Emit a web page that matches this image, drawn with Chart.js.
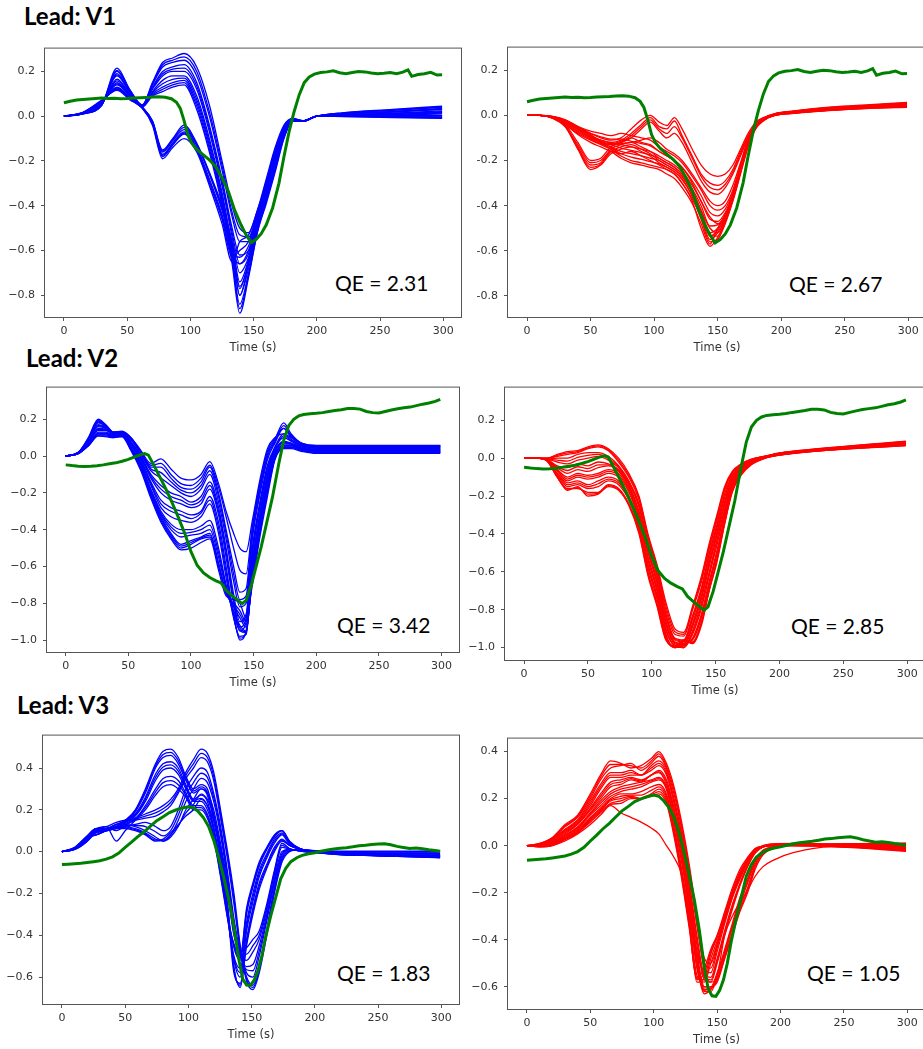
<!DOCTYPE html>
<html><head><meta charset="utf-8">
<script src="https://cdn.jsdelivr.net/npm/chart.js@4.4.1/dist/chart.umd.min.js"></script>
<style>
html,body{margin:0;padding:0;background:#fff;overflow:hidden;width:923px;height:1049px;}
body{position:relative;}
canvas{position:absolute;}
.lead{position:absolute;font-family:Lato,'Open Sans',sans-serif;font-weight:700;font-size:24px;line-height:24px;color:#000;white-space:nowrap;}
.qe{position:absolute;font-family:Lato,'Open Sans',sans-serif;font-size:21px;line-height:21px;color:#000;white-space:nowrap;}
</style></head><body>
<div class="lead" style="left:24px;top:4px">Lead: V1</div>
<div class="lead" style="left:26px;top:346px">Lead: V2</div>
<div class="lead" style="left:17px;top:693px">Lead: V3</div>
<div class="qe" style="left:335px;top:272px">QE = 2.31</div>
<div class="qe" style="left:789px;top:273px">QE = 2.67</div>
<div class="qe" style="left:337px;top:614px">QE = 3.42</div>
<div class="qe" style="left:791px;top:615px">QE = 2.85</div>
<div class="qe" style="left:337px;top:962px">QE = 1.83</div>
<div class="qe" style="left:807px;top:962px">QE = 1.05</div>
<script>
// ---------- tick labels ----------
const xTicks = [0, 50, 100, 150, 200, 250, 300];
const yTicksV1 = [0.2, 0.0, -0.2, -0.4, -0.6, -0.8];
const yTicksV2 = [0.2, 0.0, -0.2, -0.4, -0.6, -0.8, -1.0];
const yTicksV3 = [0.4, 0.2, 0.0, -0.2, -0.4, -0.6];

// ---------- green reference traces (one per lead) ----------
const greenTimeV1 = [0,5,10,15,20,25,30,35,40,45,50,55,60,65,70,75,80,85,89,92,95,98,101,105,110,115,120,125,130,135,140,144,148,152,156,160,165,170,174,178,182,186,190,194,198,203,208,213,218,223,228,233,238,243,248,253,258,263,268,272,275,280,285,290,295,299];
const greenV1 = [0.06,0.067,0.072,0.075,0.077,0.079,0.081,0.079,0.08,0.078,0.079,0.081,0.082,0.083,0.086,0.087,0.085,0.078,0.062,0.035,-0.02,-0.085,-0.12,-0.148,-0.172,-0.195,-0.225,-0.275,-0.335,-0.42,-0.485,-0.53,-0.565,-0.55,-0.525,-0.485,-0.41,-0.3,-0.18,-0.07,0.02,0.095,0.15,0.175,0.188,0.195,0.198,0.203,0.194,0.19,0.195,0.2,0.198,0.193,0.19,0.192,0.195,0.19,0.197,0.207,0.178,0.186,0.19,0.196,0.184,0.185];

const greenTimeV2 = [0,5,10,15,20,25,30,35,40,45,50,55,60,63,66,70,75,80,85,90,95,100,105,110,115,120,124,128,133,137,141,144,148,152,156,160,165,170,174,178,182,186,190,195,200,205,210,215,220,225,230,235,240,245,250,255,260,265,270,275,280,285,290,295,299];
const greenV2 = [-0.048,-0.052,-0.055,-0.057,-0.056,-0.053,-0.048,-0.042,-0.037,-0.028,-0.018,-0.005,0.008,0.013,0.005,-0.045,-0.112,-0.18,-0.255,-0.335,-0.42,-0.52,-0.595,-0.635,-0.66,-0.678,-0.69,-0.73,-0.76,-0.782,-0.802,-0.785,-0.705,-0.6,-0.495,-0.375,-0.225,-0.045,0.085,0.165,0.2,0.218,0.226,0.23,0.232,0.236,0.242,0.247,0.252,0.258,0.258,0.255,0.242,0.236,0.234,0.242,0.25,0.257,0.262,0.266,0.274,0.282,0.288,0.297,0.308];

const greenTimeV3 = [0,5,10,15,20,25,30,35,40,45,50,55,60,65,70,75,80,85,90,95,100,104,108,112,116,120,124,128,132,136,140,143,146,149,152,155,158,161,165,169,173,177,181,186,190,195,200,205,210,215,220,225,230,235,240,245,250,255,260,265,270,275,280,285,290,295,299];
const greenV3 = [-0.062,-0.06,-0.058,-0.056,-0.052,-0.048,-0.044,-0.036,-0.025,-0.007,0.02,0.045,0.072,0.095,0.122,0.148,0.167,0.187,0.199,0.209,0.215,0.21,0.19,0.162,0.12,0.055,-0.03,-0.125,-0.23,-0.36,-0.52,-0.61,-0.638,-0.64,-0.615,-0.57,-0.5,-0.41,-0.31,-0.22,-0.13,-0.08,-0.048,-0.028,-0.018,-0.01,-0.005,0.002,0.008,0.013,0.016,0.019,0.023,0.028,0.03,0.034,0.036,0.038,0.033,0.025,0.02,0.015,0.017,0.014,0.009,0.005,0.002];

// ---------- Lead V1, blue ----------
const timeV1Blue = [0,15,30,42,52,62,70,78,86,95,105,115,125,133,139,146,153,160,167,174,181,189,200,220,260,299];
const blueV1 = [
 [0,0.010,0.050,0.215,0.120,0.050,0.150,0.240,0.260,0.280,0.220,0.050,-0.200,-0.400,-0.500,-0.520,-0.420,-0.280,-0.140,-0.040,-0.010,-0.020,0.000,0.015,0.030,0.045],
 [0,0.011,0.051,0.205,0.118,0.049,0.145,0.230,0.250,0.265,0.200,0.020,-0.220,-0.430,-0.530,-0.540,-0.430,-0.290,-0.150,-0.045,-0.011,-0.020,0.000,0.014,0.028,0.042],
 [0,0.010,0.050,0.200,0.115,0.050,0.140,0.220,0.240,0.250,0.180,0.000,-0.240,-0.450,-0.560,-0.560,-0.440,-0.300,-0.160,-0.050,-0.012,-0.020,0.000,0.013,0.026,0.040],
 [0,0.011,0.052,0.190,0.110,0.048,0.130,0.200,0.220,0.230,0.150,-0.040,-0.280,-0.500,-0.620,-0.600,-0.460,-0.310,-0.170,-0.060,-0.014,-0.021,0.000,0.011,0.022,0.035],
 [0,0.011,0.053,0.185,0.108,0.047,0.125,0.190,0.210,0.215,0.135,-0.055,-0.295,-0.520,-0.660,-0.615,-0.470,-0.320,-0.180,-0.065,-0.015,-0.021,0.000,0.010,0.020,0.032],
 [0,0.012,0.055,0.180,0.105,0.046,0.120,0.180,0.200,0.200,0.120,-0.070,-0.310,-0.540,-0.700,-0.630,-0.480,-0.330,-0.190,-0.070,-0.016,-0.022,0.000,0.009,0.018,0.030],
 [0,0.012,0.057,0.165,0.100,0.045,0.110,0.160,0.180,0.180,0.090,-0.100,-0.340,-0.580,-0.760,-0.660,-0.500,-0.350,-0.210,-0.080,-0.018,-0.022,0.000,0.007,0.014,0.024],
 [0,0.013,0.058,0.158,0.098,0.044,0.105,0.145,0.165,0.170,0.075,-0.115,-0.355,-0.600,-0.800,-0.680,-0.505,-0.360,-0.220,-0.085,-0.019,-0.022,0.000,0.006,0.012,0.020],
 [0,0.013,0.060,0.150,0.095,0.044,0.100,0.130,0.150,0.160,0.060,-0.130,-0.370,-0.620,-0.840,-0.700,-0.510,-0.370,-0.230,-0.090,-0.020,-0.023,0.000,0.005,0.009,0.017],
 [0,0.014,0.061,0.145,0.092,0.043,0.095,0.120,0.140,0.150,0.045,-0.145,-0.385,-0.640,-0.860,-0.710,-0.515,-0.380,-0.240,-0.095,-0.021,-0.023,0.000,0.004,0.007,0.014],
 [0,0.014,0.062,0.140,0.090,0.042,0.090,0.110,0.130,0.140,0.030,-0.160,-0.400,-0.660,-0.880,-0.720,-0.520,-0.390,-0.250,-0.100,-0.022,-0.023,0.000,0.003,0.005,0.010],
 [0,0.015,0.065,0.130,0.085,0.040,-0.020,-0.150,-0.100,-0.040,-0.120,-0.250,-0.400,-0.560,-0.740,-0.640,-0.480,-0.330,-0.190,-0.070,-0.020,-0.022,0.000,0.002,0.002,0.004],
 [0,0.015,0.066,0.128,0.084,0.040,-0.022,-0.155,-0.105,-0.050,-0.125,-0.255,-0.410,-0.575,-0.770,-0.650,-0.485,-0.335,-0.195,-0.075,-0.020,-0.022,0.000,0.002,0.001,0.002],
 [0,0.015,0.066,0.125,0.082,0.040,-0.025,-0.160,-0.110,-0.060,-0.130,-0.260,-0.420,-0.590,-0.800,-0.660,-0.490,-0.340,-0.200,-0.080,-0.020,-0.022,0.000,0.001,0.000,0.000],
 [0,0.016,0.068,0.120,0.080,0.038,-0.030,-0.170,-0.120,-0.070,-0.140,-0.280,-0.440,-0.610,-0.660,-0.600,-0.460,-0.320,-0.180,-0.070,-0.020,-0.022,0.000,0.000,-0.002,-0.004],
 [0,0.016,0.069,0.120,0.078,0.037,-0.032,-0.175,-0.125,-0.075,-0.145,-0.290,-0.450,-0.620,-0.630,-0.580,-0.450,-0.315,-0.175,-0.065,-0.020,-0.022,0.000,0.000,-0.003,-0.006],
 [0,0.016,0.070,0.120,0.076,0.036,-0.035,-0.180,-0.130,-0.080,-0.150,-0.300,-0.460,-0.630,-0.600,-0.560,-0.440,-0.310,-0.170,-0.060,-0.020,-0.021,0.000,-0.001,-0.004,-0.007],
 [0,0.017,0.072,0.115,0.074,0.035,-0.040,-0.190,-0.140,-0.100,-0.160,-0.310,-0.480,-0.650,-0.560,-0.530,-0.420,-0.300,-0.160,-0.060,-0.020,-0.021,0.000,-0.002,-0.006,-0.010]
];

// ---------- Lead V1, red ----------
const timeV1Red = [0,10,20,30,40,50,58,66,74,82,90,97,104,110,116,122,130,137,144,150,156,162,168,174,180,186,195,210,240,270,299];
const redV1 = [
 [0,0,-0.005,-0.02,-0.05,-0.08,-0.10,-0.11,-0.10,-0.06,-0.02,0.0,-0.03,-0.045,-0.01,-0.06,-0.15,-0.22,-0.26,-0.27,-0.26,-0.22,-0.15,-0.08,-0.03,-0.01,0.008,0.02,0.037,0.047,0.057],
 [0,0,-0.005,-0.02,-0.05,-0.09,-0.11,-0.12,-0.11,-0.08,-0.04,-0.01,-0.05,-0.06,-0.025,-0.09,-0.18,-0.26,-0.30,-0.31,-0.29,-0.24,-0.16,-0.09,-0.035,-0.012,0.007,0.019,0.035,0.045,0.055],
 [0,0,-0.006,-0.022,-0.052,-0.085,-0.115,-0.125,-0.115,-0.09,-0.05,-0.02,-0.06,-0.08,-0.05,-0.1,-0.19,-0.27,-0.32,-0.33,-0.305,-0.25,-0.17,-0.095,-0.038,-0.013,0.006,0.018,0.034,0.045,0.054],
 [0,0,-0.006,-0.025,-0.055,-0.09,-0.12,-0.13,-0.12,-0.10,-0.06,-0.03,-0.07,-0.10,-0.08,-0.12,-0.21,-0.29,-0.34,-0.35,-0.32,-0.26,-0.18,-0.10,-0.04,-0.014,0.006,0.018,0.033,0.044,0.053],
 [0,0,-0.007,-0.03,-0.06,-0.1,-0.125,-0.13,-0.125,-0.12,-0.11,-0.1,-0.12,-0.15,-0.17,-0.2,-0.26,-0.32,-0.38,-0.4,-0.38,-0.31,-0.21,-0.105,-0.043,-0.016,0.004,0.016,0.03,0.041,0.05],
 [0,0,-0.01,-0.04,-0.12,-0.20,-0.19,-0.14,-0.12,-0.10,-0.12,-0.13,-0.16,-0.18,-0.20,-0.23,-0.30,-0.38,-0.45,-0.48,-0.44,-0.35,-0.24,-0.12,-0.05,-0.02,0.005,0.016,0.031,0.042,0.051],
 [0,0,-0.01,-0.045,-0.14,-0.22,-0.21,-0.15,-0.13,-0.12,-0.14,-0.16,-0.19,-0.21,-0.23,-0.26,-0.33,-0.42,-0.50,-0.52,-0.46,-0.37,-0.25,-0.13,-0.055,-0.022,0.004,0.015,0.03,0.041,0.049],
 [0,0,-0.011,-0.047,-0.145,-0.23,-0.215,-0.16,-0.14,-0.13,-0.15,-0.17,-0.2,-0.22,-0.24,-0.27,-0.345,-0.44,-0.53,-0.535,-0.47,-0.375,-0.255,-0.135,-0.057,-0.023,0.003,0.014,0.029,0.04,0.048],
 [0,0,-0.012,-0.05,-0.15,-0.24,-0.22,-0.17,-0.15,-0.14,-0.16,-0.18,-0.21,-0.23,-0.25,-0.28,-0.36,-0.46,-0.56,-0.55,-0.48,-0.38,-0.26,-0.14,-0.06,-0.025,0.003,0.014,0.028,0.039,0.047],
 [0,0,-0.012,-0.05,-0.13,-0.21,-0.20,-0.16,-0.17,-0.16,-0.18,-0.20,-0.22,-0.24,-0.26,-0.30,-0.38,-0.50,-0.58,-0.54,-0.47,-0.37,-0.25,-0.13,-0.055,-0.023,0.002,0.013,0.027,0.038,0.045],
 [0,0,-0.008,-0.025,-0.05,-0.07,-0.08,-0.09,-0.08,-0.09,-0.10,-0.11,-0.14,-0.16,-0.18,-0.21,-0.27,-0.33,-0.40,-0.42,-0.40,-0.33,-0.22,-0.11,-0.045,-0.017,0.002,0.012,0.026,0.036,0.043],
 [0,0,-0.008,-0.028,-0.055,-0.08,-0.095,-0.105,-0.105,-0.115,-0.125,-0.135,-0.16,-0.18,-0.2,-0.23,-0.29,-0.355,-0.43,-0.445,-0.415,-0.34,-0.225,-0.11,-0.046,-0.017,0.002,0.012,0.026,0.035,0.042],
 [0,0,-0.008,-0.03,-0.06,-0.09,-0.11,-0.12,-0.13,-0.14,-0.15,-0.16,-0.18,-0.20,-0.22,-0.25,-0.31,-0.38,-0.46,-0.47,-0.43,-0.35,-0.23,-0.11,-0.048,-0.018,0.001,0.011,0.025,0.034,0.041],
 [0,0,-0.009,-0.032,-0.065,-0.095,-0.115,-0.13,-0.145,-0.155,-0.165,-0.175,-0.19,-0.21,-0.23,-0.26,-0.325,-0.4,-0.49,-0.485,-0.44,-0.355,-0.235,-0.115,-0.049,-0.019,0.001,0.011,0.024,0.034,0.04],
 [0,0,-0.009,-0.035,-0.07,-0.10,-0.12,-0.14,-0.16,-0.17,-0.18,-0.19,-0.20,-0.22,-0.24,-0.27,-0.34,-0.42,-0.52,-0.50,-0.45,-0.36,-0.24,-0.12,-0.05,-0.02,0.0,0.01,0.024,0.033,0.039],
 [0,0,-0.01,-0.038,-0.075,-0.105,-0.125,-0.145,-0.17,-0.185,-0.195,-0.205,-0.215,-0.23,-0.25,-0.285,-0.355,-0.435,-0.535,-0.51,-0.455,-0.365,-0.245,-0.122,-0.051,-0.02,0.0,0.01,0.023,0.033,0.038],
 [0,0,-0.01,-0.04,-0.08,-0.11,-0.13,-0.15,-0.18,-0.20,-0.21,-0.22,-0.23,-0.24,-0.26,-0.30,-0.37,-0.45,-0.55,-0.52,-0.46,-0.37,-0.25,-0.125,-0.052,-0.021,0.0,0.01,0.023,0.032,0.037],
 [0,0,-0.01,-0.04,-0.085,-0.12,-0.14,-0.16,-0.19,-0.21,-0.22,-0.23,-0.24,-0.26,-0.28,-0.32,-0.39,-0.48,-0.57,-0.50,-0.44,-0.36,-0.24,-0.12,-0.05,-0.02,0.0,0.009,0.022,0.031,0.035]
];

// ---------- Lead V2, blue ----------
const timeV2Blue = [0,10,18,26,32,38,45,52,60,68,76,84,92,100,108,115,122,128,134,139,144,149,155,161,167,174,180,188,200,230,299];
const blueV2 = [
 [0,0.02,0.1,0.2,0.17,0.13,0.13,0.1,0.03,-0.04,-0.015,-0.07,-0.12,-0.13,-0.1,-0.03,-0.15,-0.3,-0.42,-0.5,-0.52,-0.35,-0.13,0.04,0.1,0.12,0.1,0.07,0.058,0.058,0.058],
 [0,0.019,0.095,0.195,0.168,0.13,0.132,0.1,0.025,-0.05,-0.04,-0.1,-0.15,-0.16,-0.12,-0.05,-0.17,-0.33,-0.5,-0.62,-0.64,-0.38,-0.15,0.025,0.095,0.15,0.11,0.07,0.056,0.056,0.056],
 [0,0.02,0.09,0.19,0.165,0.13,0.135,0.1,0.02,-0.06,-0.06,-0.12,-0.17,-0.18,-0.14,-0.06,-0.2,-0.4,-0.6,-0.74,-0.72,-0.4,-0.17,0.01,0.09,0.18,0.12,0.07,0.054,0.054,0.054],
 [0,0.019,0.09,0.185,0.162,0.128,0.132,0.095,0.015,-0.07,-0.09,-0.14,-0.185,-0.2,-0.16,-0.08,-0.22,-0.42,-0.64,-0.78,-0.76,-0.43,-0.19,-0.005,0.08,0.165,0.11,0.068,0.052,0.052,0.052],
 [0,0.018,0.09,0.18,0.16,0.125,0.13,0.09,0.01,-0.08,-0.12,-0.16,-0.2,-0.22,-0.18,-0.1,-0.25,-0.45,-0.68,-0.82,-0.8,-0.45,-0.21,-0.02,0.07,0.15,0.1,0.065,0.05,0.05,0.05],
 [0,0.018,0.085,0.17,0.155,0.125,0.13,0.08,0.0,-0.1,-0.16,-0.2,-0.22,-0.25,-0.22,-0.14,-0.28,-0.5,-0.75,-0.9,-0.86,-0.5,-0.25,-0.05,0.05,0.12,0.09,0.06,0.046,0.046,0.046],
 [0,0.017,0.083,0.165,0.152,0.122,0.128,0.075,-0.005,-0.11,-0.18,-0.22,-0.24,-0.265,-0.24,-0.16,-0.3,-0.52,-0.78,-0.93,-0.88,-0.52,-0.265,-0.065,0.045,0.11,0.085,0.058,0.044,0.044,0.044],
 [0,0.016,0.08,0.16,0.15,0.12,0.125,0.07,-0.01,-0.12,-0.2,-0.24,-0.26,-0.28,-0.26,-0.18,-0.32,-0.55,-0.8,-0.95,-0.9,-0.54,-0.28,-0.08,0.04,0.1,0.08,0.055,0.042,0.042,0.042],
 [0,0.016,0.075,0.15,0.145,0.12,0.125,0.07,-0.02,-0.14,-0.24,-0.28,-0.3,-0.32,-0.3,-0.22,-0.36,-0.6,-0.86,-1.0,-0.95,-0.58,-0.31,-0.1,0.03,0.08,0.07,0.05,0.038,0.038,0.038],
 [0,0.015,0.072,0.145,0.142,0.118,0.122,0.065,-0.025,-0.15,-0.26,-0.3,-0.32,-0.34,-0.31,-0.24,-0.39,-0.63,-0.87,-0.99,-0.96,-0.59,-0.325,-0.11,0.025,0.075,0.068,0.048,0.036,0.036,0.036],
 [0,0.015,0.07,0.14,0.14,0.115,0.12,0.06,-0.03,-0.16,-0.28,-0.33,-0.35,-0.36,-0.33,-0.26,-0.42,-0.66,-0.88,-0.98,-0.97,-0.6,-0.34,-0.12,0.02,0.07,0.065,0.045,0.034,0.034,0.034],
 [0,0.015,0.065,0.13,0.13,0.11,0.12,0.05,-0.04,-0.18,-0.3,-0.37,-0.4,-0.4,-0.38,-0.35,-0.5,-0.7,-0.86,-0.95,-0.96,-0.62,-0.36,-0.14,0.01,0.06,0.06,0.042,0.03,0.03,0.03],
 [0,0.014,0.062,0.125,0.125,0.11,0.118,0.048,-0.045,-0.19,-0.31,-0.385,-0.42,-0.415,-0.4,-0.375,-0.525,-0.71,-0.85,-0.935,-0.955,-0.63,-0.37,-0.15,0.005,0.058,0.058,0.04,0.028,0.028,0.028],
 [0,0.014,0.06,0.12,0.12,0.11,0.115,0.045,-0.05,-0.2,-0.32,-0.4,-0.44,-0.43,-0.42,-0.4,-0.55,-0.72,-0.84,-0.92,-0.95,-0.64,-0.38,-0.16,0.0,0.055,0.055,0.038,0.026,0.026,0.026],
 [0,0.014,0.06,0.12,0.12,0.105,0.11,0.04,-0.06,-0.21,-0.33,-0.42,-0.48,-0.46,-0.44,-0.42,-0.58,-0.74,-0.82,-0.88,-0.93,-0.66,-0.4,-0.18,-0.01,0.05,0.05,0.034,0.022,0.022,0.022],
 [0,0.013,0.058,0.115,0.115,0.102,0.11,0.038,-0.065,-0.215,-0.34,-0.43,-0.49,-0.47,-0.445,-0.43,-0.59,-0.745,-0.81,-0.86,-0.915,-0.67,-0.41,-0.19,-0.012,0.048,0.048,0.032,0.02,0.02,0.02],
 [0,0.013,0.055,0.11,0.11,0.1,0.11,0.035,-0.07,-0.22,-0.35,-0.44,-0.5,-0.48,-0.45,-0.44,-0.6,-0.75,-0.8,-0.84,-0.9,-0.68,-0.42,-0.2,-0.015,0.045,0.045,0.03,0.018,0.018,0.018],
 [0,0.013,0.055,0.11,0.105,0.1,0.105,0.03,-0.08,-0.23,-0.36,-0.45,-0.51,-0.5,-0.47,-0.45,-0.62,-0.76,-0.78,-0.8,-0.88,-0.7,-0.44,-0.22,-0.02,0.04,0.04,0.026,0.014,0.014,0.014]
];

// ---------- Lead V2, red ----------
const timeV2Red = [0,10,18,26,34,42,50,58,66,74,82,90,97,104,111,118,125,132,139,145,151,157,163,170,178,188,200,230,299];
const redV2 = [
 [0,0,0.0,0.02,0.035,0.04,0.06,0.07,0.05,0.0,-0.08,-0.2,-0.4,-0.56,-0.76,-0.9,-0.92,-0.78,-0.62,-0.45,-0.3,-0.15,-0.07,-0.03,-0.005,0.01,0.028,0.05,0.09],
 [0,0,0.0,0.015,0.028,0.035,0.055,0.065,0.045,-0.01,-0.09,-0.21,-0.41,-0.57,-0.78,-0.915,-0.93,-0.79,-0.635,-0.465,-0.315,-0.16,-0.075,-0.032,-0.006,0.01,0.027,0.049,0.088],
 [0,0,0.0,0.01,0.02,0.03,0.05,0.06,0.04,-0.02,-0.1,-0.22,-0.42,-0.58,-0.8,-0.93,-0.94,-0.8,-0.65,-0.48,-0.33,-0.17,-0.08,-0.035,-0.008,0.009,0.026,0.048,0.087],
 [0,0,-0.005,0.0,0.0,0.02,0.03,0.03,0.01,-0.04,-0.12,-0.24,-0.44,-0.6,-0.82,-0.95,-0.96,-0.83,-0.68,-0.5,-0.35,-0.19,-0.09,-0.04,-0.01,0.008,0.025,0.047,0.085],
 [0,0,-0.005,-0.01,-0.015,0.005,0.015,0.02,0.0,-0.045,-0.125,-0.25,-0.45,-0.61,-0.83,-0.955,-0.965,-0.84,-0.69,-0.515,-0.36,-0.2,-0.095,-0.042,-0.011,0.007,0.024,0.046,0.084],
 [0,0,-0.005,-0.02,-0.03,-0.01,0.0,0.01,-0.01,-0.05,-0.13,-0.26,-0.46,-0.62,-0.84,-0.96,-0.97,-0.85,-0.7,-0.53,-0.37,-0.21,-0.1,-0.045,-0.012,0.007,0.024,0.046,0.083],
 [0,0,-0.008,-0.04,-0.05,-0.03,-0.04,-0.02,-0.03,-0.06,-0.14,-0.28,-0.48,-0.64,-0.86,-0.97,-0.98,-0.87,-0.72,-0.55,-0.39,-0.23,-0.11,-0.05,-0.015,0.006,0.023,0.045,0.08],
 [0,0,-0.008,-0.045,-0.065,-0.045,-0.055,-0.035,-0.035,-0.065,-0.145,-0.29,-0.49,-0.65,-0.87,-0.975,-0.985,-0.88,-0.73,-0.56,-0.4,-0.24,-0.115,-0.052,-0.016,0.005,0.022,0.044,0.079],
 [0,0,-0.008,-0.05,-0.08,-0.06,-0.07,-0.05,-0.04,-0.07,-0.15,-0.3,-0.5,-0.66,-0.88,-0.98,-0.99,-0.89,-0.74,-0.57,-0.41,-0.25,-0.12,-0.055,-0.018,0.005,0.022,0.044,0.078],
 [0,0,-0.01,-0.06,-0.1,-0.08,-0.09,-0.08,-0.06,-0.08,-0.16,-0.31,-0.52,-0.68,-0.9,-0.99,-1.0,-0.91,-0.76,-0.6,-0.43,-0.27,-0.13,-0.06,-0.02,0.004,0.021,0.043,0.076],
 [0,0,-0.01,-0.065,-0.11,-0.09,-0.1,-0.09,-0.07,-0.09,-0.17,-0.32,-0.53,-0.69,-0.905,-0.99,-1.0,-0.92,-0.775,-0.61,-0.445,-0.28,-0.135,-0.062,-0.021,0.003,0.02,0.042,0.075],
 [0,0,-0.01,-0.07,-0.12,-0.1,-0.11,-0.1,-0.08,-0.1,-0.18,-0.33,-0.54,-0.7,-0.91,-0.99,-1.0,-0.93,-0.79,-0.62,-0.46,-0.29,-0.14,-0.065,-0.022,0.003,0.02,0.042,0.074],
 [0,0,-0.012,-0.08,-0.13,-0.12,-0.14,-0.12,-0.1,-0.12,-0.2,-0.35,-0.56,-0.72,-0.93,-1.0,-0.99,-0.95,-0.82,-0.65,-0.49,-0.31,-0.15,-0.07,-0.025,0.002,0.019,0.041,0.072],
 [0,0,-0.012,-0.085,-0.14,-0.13,-0.15,-0.135,-0.11,-0.13,-0.21,-0.36,-0.57,-0.73,-0.935,-1.0,-0.985,-0.955,-0.83,-0.66,-0.5,-0.315,-0.155,-0.072,-0.026,0.001,0.018,0.04,0.071],
 [0,0,-0.012,-0.09,-0.15,-0.14,-0.16,-0.15,-0.12,-0.14,-0.22,-0.37,-0.58,-0.74,-0.94,-1.0,-0.98,-0.96,-0.84,-0.67,-0.51,-0.32,-0.16,-0.075,-0.028,0.001,0.018,0.04,0.07],
 [0,0,-0.015,-0.1,-0.16,-0.16,-0.18,-0.18,-0.14,-0.16,-0.24,-0.38,-0.6,-0.76,-0.95,-1.0,-0.97,-0.97,-0.86,-0.69,-0.53,-0.34,-0.17,-0.08,-0.03,0.0,0.017,0.039,0.068],
 [0,0,-0.015,-0.1,-0.165,-0.155,-0.19,-0.185,-0.145,-0.165,-0.245,-0.39,-0.61,-0.77,-0.955,-0.995,-0.965,-0.975,-0.87,-0.695,-0.54,-0.345,-0.175,-0.085,-0.032,-0.001,0.016,0.038,0.067],
 [0,0,-0.015,-0.1,-0.17,-0.15,-0.2,-0.19,-0.15,-0.17,-0.25,-0.4,-0.62,-0.78,-0.96,-0.99,-0.96,-0.98,-0.88,-0.7,-0.55,-0.35,-0.18,-0.09,-0.035,-0.002,0.016,0.038,0.066]
];

// ---------- Lead V3, blue ----------
const timeV3Blue = [0,10,20,27,35,43,50,58,66,74,80,86,92,98,104,110,115,120,126,131,136,141,146,151,156,162,168,174,180,188,200,230,299];
const blueV3 = [
 [0,0.01,0.05,0.09,0.1,0.12,0.15,0.2,0.3,0.42,0.48,0.49,0.45,0.36,0.3,0.32,0.3,0.18,-0.02,-0.25,-0.55,-0.65,-0.45,-0.3,-0.18,-0.08,0.0,0.05,0.03,0.012,0.005,0.002,0.003],
 [0,0.01,0.05,0.095,0.1,0.12,0.145,0.195,0.29,0.41,0.465,0.475,0.435,0.35,0.29,0.31,0.285,0.165,-0.035,-0.265,-0.565,-0.64,-0.435,-0.285,-0.165,-0.07,0.01,0.055,0.03,0.012,0.004,0.0,0.0],
 [0,0.01,0.05,0.1,0.1,0.12,0.14,0.19,0.28,0.4,0.45,0.46,0.42,0.34,0.28,0.3,0.27,0.15,-0.05,-0.28,-0.58,-0.63,-0.42,-0.27,-0.15,-0.06,0.02,0.06,0.03,0.012,0.004,-0.001,-0.002],
 [0,0.012,0.055,0.1,0.11,0.13,0.15,0.18,0.26,0.37,0.42,0.43,0.4,0.32,0.25,0.27,0.24,0.12,-0.08,-0.3,-0.52,-0.6,-0.38,-0.24,-0.12,-0.03,0.04,0.08,0.035,0.013,0.003,-0.004,-0.007],
 [0,0.012,0.058,0.105,0.11,0.13,0.145,0.175,0.25,0.355,0.405,0.415,0.385,0.31,0.245,0.255,0.22,0.11,-0.09,-0.31,-0.51,-0.58,-0.36,-0.22,-0.105,-0.02,0.05,0.085,0.038,0.013,0.002,-0.006,-0.01],
 [0,0.012,0.06,0.11,0.11,0.13,0.14,0.17,0.24,0.34,0.39,0.4,0.37,0.3,0.24,0.24,0.2,0.1,-0.1,-0.32,-0.5,-0.56,-0.34,-0.2,-0.09,-0.01,0.06,0.09,0.04,0.014,0.002,-0.007,-0.012],
 [0,0.014,0.06,0.11,0.12,0.14,0.15,0.16,0.22,0.3,0.35,0.36,0.34,0.28,0.22,0.22,0.18,0.08,-0.12,-0.3,-0.46,-0.52,-0.3,-0.17,-0.07,0.01,0.07,0.1,0.045,0.015,0.001,-0.01,-0.018],
 [0,0.014,0.062,0.105,0.12,0.1,0.125,0.155,0.21,0.285,0.33,0.34,0.32,0.27,0.21,0.21,0.17,0.07,-0.13,-0.31,-0.45,-0.51,-0.285,-0.16,-0.06,0.015,0.075,0.1,0.048,0.015,0.0,-0.011,-0.021],
 [0,0.014,0.065,0.1,0.12,0.05,0.1,0.15,0.2,0.27,0.31,0.32,0.3,0.26,0.2,0.2,0.16,0.06,-0.14,-0.32,-0.44,-0.5,-0.27,-0.15,-0.05,0.02,0.08,0.1,0.05,0.016,0.0,-0.012,-0.024],
 [0,0.015,0.065,0.08,0.1,0.12,0.14,0.16,0.18,0.2,0.22,0.25,0.3,0.38,0.44,0.49,0.47,0.38,0.18,0.0,-0.2,-0.45,-0.62,-0.66,-0.58,-0.4,-0.2,-0.05,0.0,0.01,0.0,-0.013,-0.03],
 [0,0.015,0.068,0.08,0.1,0.12,0.135,0.155,0.17,0.185,0.205,0.235,0.29,0.365,0.42,0.47,0.45,0.36,0.16,-0.02,-0.225,-0.46,-0.61,-0.65,-0.565,-0.385,-0.185,-0.04,0.003,0.009,0.0,-0.013,-0.029],
 [0,0.016,0.07,0.08,0.1,0.12,0.13,0.15,0.16,0.17,0.19,0.22,0.28,0.35,0.4,0.45,0.43,0.34,0.14,-0.04,-0.25,-0.47,-0.6,-0.64,-0.55,-0.37,-0.17,-0.03,0.005,0.008,0.0,-0.014,-0.028],
 [0,0.016,0.07,0.09,0.1,0.11,0.12,0.13,0.14,0.12,0.1,0.12,0.2,0.3,0.36,0.4,0.38,0.28,0.1,-0.1,-0.32,-0.48,-0.58,-0.6,-0.5,-0.33,-0.15,-0.02,0.008,0.006,-0.002,-0.015,-0.026],
 [0,0.017,0.07,0.095,0.105,0.115,0.125,0.125,0.12,0.095,0.075,0.1,0.175,0.27,0.33,0.375,0.355,0.26,0.08,-0.12,-0.34,-0.49,-0.565,-0.57,-0.475,-0.315,-0.14,-0.01,0.009,0.005,-0.002,-0.015,-0.024],
 [0,0.018,0.07,0.1,0.11,0.12,0.13,0.12,0.1,0.07,0.05,0.08,0.15,0.24,0.3,0.35,0.33,0.24,0.06,-0.14,-0.36,-0.5,-0.55,-0.54,-0.45,-0.3,-0.13,0.0,0.01,0.005,-0.003,-0.016,-0.022],
 [0,0.018,0.075,0.11,0.11,0.12,0.12,0.11,0.09,0.06,0.05,0.07,0.12,0.2,0.25,0.3,0.28,0.2,0.02,-0.16,-0.38,-0.5,-0.52,-0.48,-0.42,-0.28,-0.11,0.02,0.012,0.004,-0.004,-0.017,-0.02],
 [0,0.019,0.075,0.11,0.105,0.115,0.115,0.105,0.085,0.055,0.055,0.08,0.125,0.185,0.225,0.275,0.25,0.175,0.0,-0.18,-0.39,-0.49,-0.49,-0.45,-0.4,-0.265,-0.1,0.03,0.013,0.004,-0.004,-0.017,-0.018],
 [0,0.02,0.075,0.11,0.1,0.11,0.11,0.1,0.08,0.05,0.06,0.09,0.13,0.17,0.2,0.25,0.22,0.15,-0.02,-0.2,-0.4,-0.48,-0.46,-0.42,-0.38,-0.25,-0.09,0.04,0.015,0.003,-0.005,-0.018,-0.016]
];

// ---------- Lead V3, red ----------
const timeV3Red = [0,10,20,30,40,50,58,66,74,82,90,98,104,110,116,122,128,134,140,145,150,156,162,168,174,180,186,195,210,240,299];
const redV3 = [
 [0,0.01,0.035,0.09,0.13,0.22,0.3,0.36,0.35,0.33,0.34,0.37,0.4,0.35,0.25,0.1,-0.08,-0.3,-0.48,-0.5,-0.42,-0.3,-0.2,-0.12,-0.06,-0.02,0.0,0.008,0.01,0.008,0.011],
 [0,0.009,0.032,0.085,0.125,0.21,0.29,0.345,0.345,0.34,0.33,0.36,0.39,0.34,0.235,0.085,-0.1,-0.32,-0.5,-0.52,-0.435,-0.315,-0.21,-0.13,-0.065,-0.022,-0.001,0.007,0.009,0.007,0.01],
 [0,0.008,0.03,0.08,0.12,0.2,0.28,0.33,0.34,0.35,0.32,0.35,0.38,0.33,0.22,0.07,-0.12,-0.34,-0.52,-0.54,-0.45,-0.33,-0.22,-0.14,-0.07,-0.025,-0.003,0.006,0.008,0.006,0.008],
 [0,0.006,0.028,0.07,0.11,0.19,0.26,0.31,0.31,0.32,0.3,0.34,0.36,0.32,0.2,0.05,-0.15,-0.38,-0.55,-0.56,-0.48,-0.36,-0.25,-0.16,-0.08,-0.03,-0.005,0.005,0.007,0.005,0.005],
 [0,0.005,0.026,0.068,0.105,0.18,0.25,0.3,0.3,0.31,0.3,0.33,0.35,0.31,0.19,0.035,-0.165,-0.4,-0.56,-0.57,-0.49,-0.37,-0.26,-0.165,-0.085,-0.03,-0.005,0.004,0.006,0.004,0.003],
 [0,0.005,0.025,0.065,0.1,0.17,0.24,0.29,0.29,0.3,0.3,0.32,0.34,0.3,0.18,0.02,-0.18,-0.42,-0.57,-0.58,-0.5,-0.38,-0.27,-0.17,-0.09,-0.03,-0.006,0.004,0.006,0.004,0.002],
 [0,0.004,0.02,0.06,0.095,0.16,0.22,0.27,0.28,0.29,0.28,0.3,0.32,0.28,0.16,0.0,-0.2,-0.45,-0.6,-0.6,-0.54,-0.44,-0.33,-0.22,-0.14,-0.06,-0.02,-0.004,0.005,0.003,0.0],
 [0,0.003,0.019,0.055,0.092,0.155,0.21,0.26,0.27,0.285,0.275,0.3,0.315,0.27,0.15,-0.015,-0.215,-0.465,-0.61,-0.61,-0.55,-0.45,-0.34,-0.235,-0.15,-0.065,-0.022,-0.005,0.004,0.002,-0.002],
 [0,0.003,0.018,0.05,0.09,0.15,0.2,0.25,0.26,0.28,0.27,0.3,0.31,0.26,0.14,-0.03,-0.23,-0.48,-0.62,-0.62,-0.56,-0.46,-0.35,-0.25,-0.16,-0.07,-0.025,-0.006,0.004,0.002,-0.003],
 [0,0.002,0.015,0.045,0.08,0.14,0.19,0.23,0.25,0.26,0.27,0.28,0.29,0.25,0.12,-0.05,-0.25,-0.5,-0.63,-0.61,-0.57,-0.47,-0.37,-0.26,-0.18,-0.08,-0.03,-0.008,0.003,0.001,-0.006],
 [0,0.001,0.012,0.042,0.078,0.135,0.18,0.22,0.24,0.25,0.26,0.275,0.285,0.245,0.11,-0.06,-0.26,-0.51,-0.615,-0.605,-0.575,-0.475,-0.375,-0.27,-0.19,-0.09,-0.035,-0.009,0.002,0.0,-0.008],
 [0,0.0,0.01,0.04,0.075,0.13,0.17,0.21,0.23,0.24,0.25,0.27,0.28,0.24,0.1,-0.07,-0.27,-0.52,-0.6,-0.6,-0.58,-0.48,-0.38,-0.28,-0.2,-0.1,-0.04,-0.01,0.002,0.0,-0.01],
 [0,0.0,0.008,0.035,0.07,0.12,0.16,0.2,0.22,0.22,0.23,0.25,0.26,0.22,0.08,-0.1,-0.3,-0.55,-0.58,-0.5,-0.42,-0.32,-0.22,-0.14,-0.07,-0.02,-0.005,0.0,0.001,-0.001,-0.013],
 [0,-0.001,0.006,0.032,0.065,0.115,0.155,0.195,0.21,0.215,0.215,0.235,0.25,0.21,0.07,-0.11,-0.315,-0.565,-0.57,-0.48,-0.405,-0.31,-0.21,-0.13,-0.065,-0.018,-0.005,0.0,0.0,-0.002,-0.015],
 [0,-0.003,0.005,0.03,0.06,0.11,0.15,0.19,0.2,0.21,0.2,0.22,0.24,0.2,0.06,-0.12,-0.33,-0.58,-0.56,-0.46,-0.39,-0.3,-0.2,-0.12,-0.06,-0.015,-0.004,0.0,0.0,-0.002,-0.017],
 [0,-0.004,0.002,0.027,0.057,0.105,0.145,0.18,0.19,0.205,0.2,0.215,0.23,0.19,0.05,-0.13,-0.34,-0.57,-0.54,-0.45,-0.385,-0.29,-0.19,-0.11,-0.055,-0.013,-0.003,0.0,0.0,-0.002,-0.019],
 [0,-0.005,0.0,0.025,0.055,0.1,0.14,0.175,0.18,0.2,0.2,0.21,0.22,0.18,0.04,-0.14,-0.35,-0.56,-0.52,-0.44,-0.38,-0.28,-0.18,-0.1,-0.05,-0.012,-0.003,0.0,0.0,-0.003,-0.021],
 [0,-0.005,0.0,0.02,0.05,0.09,0.13,0.17,0.14,0.12,0.1,0.075,0.05,0.0,-0.05,-0.12,-0.28,-0.45,-0.55,-0.58,-0.55,-0.38,-0.3,-0.24,-0.19,-0.13,-0.09,-0.06,-0.03,-0.005,-0.024]
];

// ---------- layout of the six panels (plot-area pixel boxes) ----------
const panels = [
  {plot:[45,46,416,271],  yMin:-0.897, yMax:0.302, yTicks:yTicksV1, minus:'\u2212', time:timeV1Blue, curves:blueV1, color:'#0000ff', gT:greenTimeV1, gV:greenV1},
  {plot:[508,45,418,272], yMin:-0.893, yMax:0.300, yTicks:yTicksV1, minus:'-',      time:timeV1Red,  curves:redV1,  color:'#ff0000', gT:greenTimeV1, gV:greenV1},
  {plot:[47,385,412,267], yMin:-1.065, yMax:0.372, yTicks:yTicksV2, minus:'\u2212', time:timeV2Blue, curves:blueV2, color:'#0000ff', gT:greenTimeV2, gV:greenV2},
  {plot:[505,385,420,275],yMin:-1.066, yMax:0.373, yTicks:yTicksV2, minus:'\u2212', time:timeV2Red,  curves:redV2,  color:'#ff0000', gT:greenTimeV2, gV:greenV2},
  {plot:[43,733,416,271], yMin:-0.729, yMax:0.555, yTicks:yTicksV3, minus:'\u2212', time:timeV3Blue, curves:blueV3, color:'#0000ff', gT:greenTimeV3, gV:greenV3},
  {plot:[508,736,417,273],yMin:-0.694, yMax:0.455, yTicks:yTicksV3, minus:'\u2212', time:timeV3Red,  curves:redV3,  color:'#ff0000', gT:greenTimeV3, gV:greenV3}
];

const boxPlugin = {
  id: 'box',
  afterDatasetsDraw(c) {
    const a = c.chartArea, x = c.ctx;
    x.save();
    x.strokeStyle = '#555'; x.lineWidth = 1;
    x.strokeRect(a.left - 0.5, a.top - 0.5, a.right - a.left + 1, a.bottom - a.top + 1);
    x.restore();
  }
};

function build(p) {
  const YW = 60, PT = 10, PR = 8, XH = 40;
  const W = YW + p.plot[2] + PR, H = PT + p.plot[3] + XH;
  const cv = document.createElement('canvas');
  cv.width = W; cv.height = H;
  cv.style.left = (p.plot[0] - YW) + 'px';
  cv.style.top = (p.plot[1] - PT) + 'px';
  cv.style.width = W + 'px'; cv.style.height = H + 'px';
  document.body.appendChild(cv);

  const datasets = [{
    data: p.gT.map((t, i) => ({x: t, y: p.gV[i]})),
    borderColor: '#008000', borderWidth: 3, tension: 0, pointRadius: 0, fill: false
  }];
  p.curves.forEach(c => datasets.push({
    data: p.time.map((t, i) => ({x: t, y: c[i]})),
    borderColor: p.color, borderWidth: 1.3, cubicInterpolationMode: 'monotone',
    pointRadius: 0, fill: false
  }));

  const gridOpts = {display: true, drawOnChartArea: false, drawTicks: true, tickLength: 4, tickColor: '#555', color: '#555', lineWidth: 1};
  const fmt = v => (v < 0 ? p.minus : '') + Math.abs(v).toFixed(1);

  new Chart(cv, {
    type: 'line',
    data: {datasets},
    plugins: [boxPlugin],
    options: {
      responsive: false, animation: false, devicePixelRatio: 1, events: [],
      layout: {padding: {top: PT, right: PR, left: 0, bottom: 0}},
      plugins: {legend: {display: false}, tooltip: {enabled: false}},
      scales: {
        x: {
          type: 'linear', min: -14.95, max: 313.95,
          afterBuildTicks: s => { s.ticks = xTicks.map(v => ({value: v})); },
          afterFit: s => { s.height = XH; },
          grid: gridOpts, border: {display: false},
          ticks: {padding: 4, color: '#333', font: {family: 'DejaVu Sans', size: 11}, maxRotation: 0, autoSkip: false, callback: v => String(v)},
          title: {display: true, text: 'Time (s)', color: '#333', font: {family: 'DejaVu Sans', size: 11.5}, padding: {top: 0, bottom: 2}}
        },
        y: {
          type: 'linear', min: p.yMin, max: p.yMax,
          afterBuildTicks: s => { s.ticks = p.yTicks.map(v => ({value: v})); },
          afterFit: s => { s.width = YW; },
          grid: gridOpts, border: {display: false},
          ticks: {padding: 6, color: '#333', font: {family: 'DejaVu Sans', size: 11}, autoSkip: false, callback: v => fmt(v)}
        }
      }
    }
  });
}
panels.forEach(build);
</script>
</body></html>
